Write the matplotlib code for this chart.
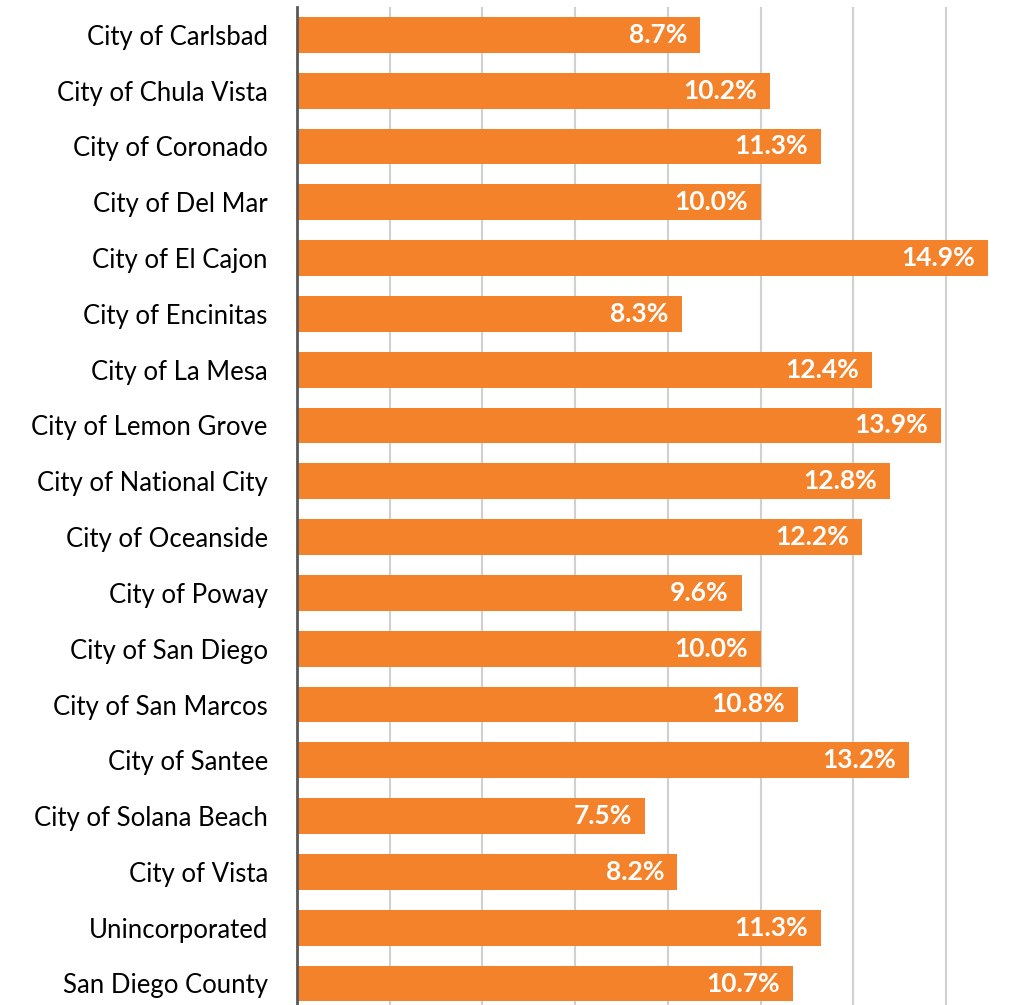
import matplotlib
matplotlib.use("Agg")
import matplotlib.pyplot as plt

areas = ["City of Carlsbad", "City of Chula Vista", "City of Coronado", "City of Del Mar",
         "City of El Cajon", "City of Encinitas", "City of La Mesa", "City of Lemon Grove",
         "City of National City", "City of Oceanside", "City of Poway", "City of San Diego",
         "City of San Marcos", "City of Santee", "City of Solana Beach", "City of Vista",
         "Unincorporated", "San Diego County"]
rates = [8.7, 10.2, 11.3, 10.0, 14.9, 8.3, 12.4, 13.9, 12.8, 12.2, 9.6, 10.0, 10.8, 13.2,
         7.5, 8.2, 11.3, 10.7]
grid_ticks = [0, 2, 4, 6, 8, 10, 12, 14]

W, H = 1012, 1005
fig = plt.figure(figsize=(W / 100, H / 100), dpi=100)
# axes placed in pixels: left spine at 297, top at 7, one row = 55.8 px
ax = fig.add_axes([297 / W, (H - 7 - 18 * 55.8) / H, (W - 297) / W, 18 * 55.8 / H])

ypos = list(range(len(areas)))
bars = ax.barh(ypos, rates, height=0.64, color="#F4822A", zorder=3)
for b, v in zip(bars, rates):
    ax.text(v - 0.28, b.get_y() + b.get_height() / 2, "%.1f%%" % v, ha="right", va="center",
            color="white", fontsize=19, fontweight="bold", family="Lato", zorder=4)

ax.set_yticks(ypos)
ax.set_yticklabels(areas, fontsize=18.5, family="Lato")
ax.set_xticks(grid_ticks)
ax.set_ylim(len(areas) - 0.5, -0.5)
ax.set_xlim(0, (W - 297) / 46.35)
ax.tick_params(axis="x", bottom=False, labelbottom=False)
ax.tick_params(axis="y", length=0, pad=21)
ax.grid(axis="x", color="#D0D0D0", linewidth=1.5, zorder=0)
for s in ["top", "right", "bottom"]:
    ax.spines[s].set_visible(False)
ax.spines["left"].set_color("#595959")
ax.spines["left"].set_linewidth(2)
ax.spines["left"].set_zorder(5)

fig.savefig("out.png", dpi=100)
